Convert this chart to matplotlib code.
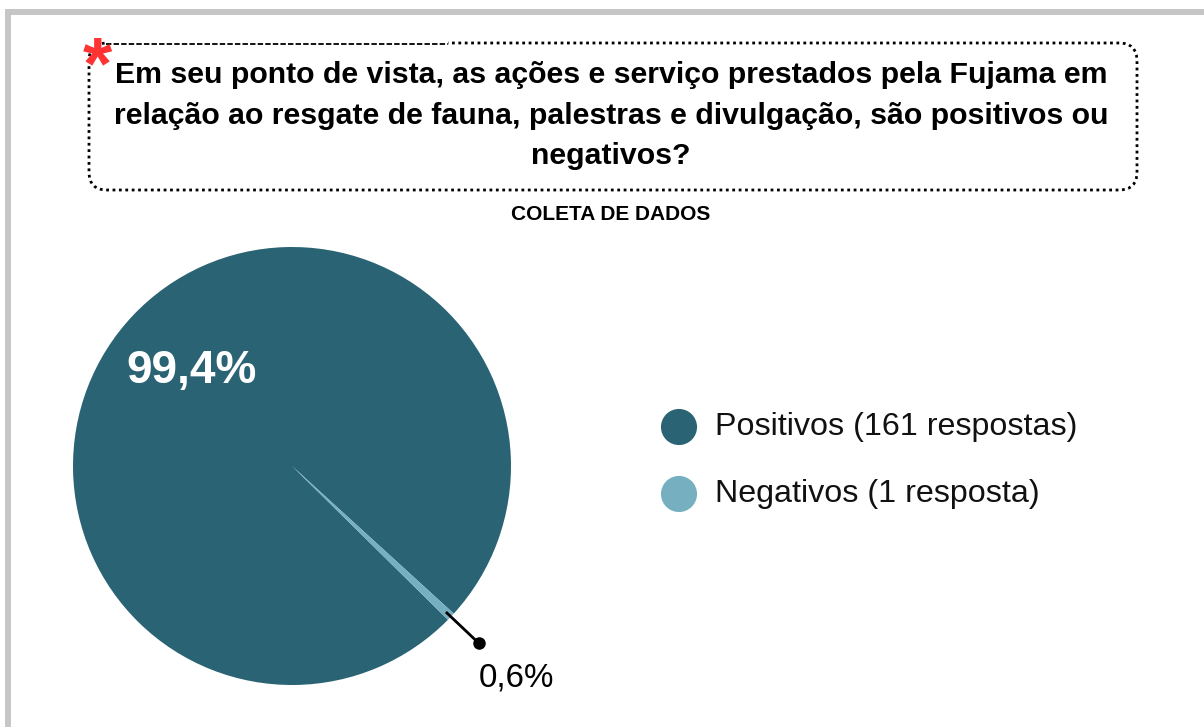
import numpy as np
import matplotlib
matplotlib.use("Agg")
import matplotlib.pyplot as plt
from matplotlib.patches import FancyBboxPatch, Rectangle

plt.rcParams['font.family'] = ['Liberation Sans', 'DejaVu Sans']

# data
labels = ['Positivos (161 respostas)', 'Negativos (1 resposta)']
counts = [161, 1]
colors = ['#2a6474', '#76b0c0']
title_lines = [
    'Em seu ponto de vista, as ações e serviço prestados pela Fujama em',
    'relação ao resgate de fauna, palestras e divulgação, são positivos ou',
    'negativos?',
]
subtitle = 'COLETA DE DADOS'

W, H = 1204, 727
fig = plt.figure(figsize=(W / 100, H / 100), dpi=100)
fig.patch.set_facecolor('white')

# overlay in pixel coords (y downwards)
ov = fig.add_axes([0, 0, 1, 1])
ov.set_xlim(0, W)
ov.set_ylim(H, 0)
ov.axis('off')

# gray frame
ov.add_patch(Rectangle((5, 9), W - 5, 6, color='#c6c6c6', lw=0))
ov.add_patch(Rectangle((5, 9), 6, H - 9, color='#c6c6c6', lw=0))

# question box
box = FancyBboxPatch((89, 43), 1048, 147, boxstyle='round,pad=0,rounding_size=18',
                     facecolor='white', edgecolor='black', lw=2,
                     linestyle=(0, (1, 1.3)))
ov.add_patch(box)
# finer dashed part of the top edge
ov.plot([106, 448], [43, 43], color='white', lw=3, solid_capstyle='butt')
ov.plot([106, 448], [43.5, 43.5], color='black', lw=1.3,
        linestyle=(0, (3, 1.2)))
ov.text(97, 88, '*', color='#ff3333', fontsize=54, fontweight='bold',
        ha='center', va='baseline')

for i, line in enumerate(title_lines):
    ov.text(611, 75 + i * 40.5, line, fontsize=21.8, fontweight='bold',
            ha='center', va='center', color='black')

ov.text(611, 214, subtitle, fontsize=15, fontweight='bold', ha='center',
        va='center', color='black')

# legend
for i, (lab, col) in enumerate(zip(labels, colors)):
    y = 427 + i * 67
    ov.scatter([679], [y], s=26 ** 2, color=col, edgecolors='none')
    ov.text(715, y, lab, fontsize=23.2, ha='left', va='center', color='#111111')


def fmt_pct(p):
    if p < 5:
        return ''
    return f'{p:.1f}%'.replace('.', ',')


# pie
ax = fig.add_axes([73 / W, (H - 685) / H, 438 / W, 438 / H])
wedges, texts, autotexts = ax.pie(counts, colors=colors, startangle=-44.6,
                                  counterclock=False, autopct=fmt_pct,
                                  pctdistance=0.63,
                                  wedgeprops=dict(linewidth=0))
for t in autotexts:
    t.set_color('white')
    t.set_fontsize(33)
    t.set_fontweight('bold')
ax.set_xlim(-1, 1)
ax.set_ylim(-1, 1)
ax.set_aspect('equal')
ax.axis('off')

# leader for the small slice
w = wedges[1]
ang = np.deg2rad((w.theta1 + w.theta2) / 2)
r0, r1 = 0.975, 1.175
x0, y0 = r0 * np.cos(ang), r0 * np.sin(ang)
x1, y1 = r1 * np.cos(ang), r1 * np.sin(ang)
ax.plot([x0, x1], [y0, y1], color='black', lw=2, clip_on=False)
ax.plot([x1], [y1], 'o', color='black', ms=8, clip_on=False)
small_pct = counts[1] / sum(counts) * 100
ax.text(x1, y1 - 0.16, f'{small_pct:.1f}%'.replace('.', ','), fontsize=23.9,
        ha='left', va='center', color='black', clip_on=False)

fig.savefig('out.png', dpi=100)
